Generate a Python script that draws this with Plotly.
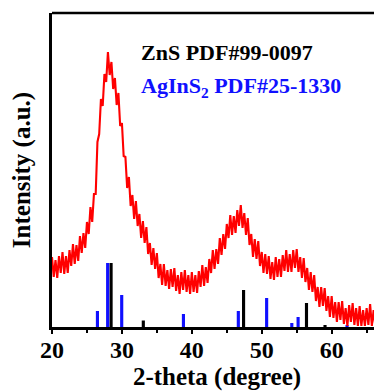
import numpy as np
import plotly.graph_objects as go

# 2-theta sampling grid (degrees)
two_theta = np.round(np.arange(20.0, 67.26, 0.25), 2)

# XRD intensity (a.u.) (noisy trace)
intensity = [
    70, 50, 67, 49, 71, 54, 75, 53, 71, 54, 77, 61, 83, 63, 82, 66,
    91, 74, 94, 79, 105, 93, 120, 105, 133, 133, 185, 193, 228, 221, 253, 245,
    275, 252, 265, 238, 249, 222, 234, 201, 204, 171, 170, 139, 150, 121, 132, 108,
    126, 101, 113, 89, 106, 84, 100, 73, 84, 62, 79, 58, 74, 49, 63, 42,
    63, 41, 57, 38, 58, 40, 59, 36, 52, 33, 55, 37, 57, 35, 52, 33,
    55, 35, 52, 34, 56, 40, 62, 41, 60, 44, 68, 54, 77, 58, 78, 63,
    89, 72, 93, 78, 103, 89, 112, 92, 111, 94, 117, 101, 122, 99, 114, 92,
    109, 82, 93, 70, 88, 68, 86, 61, 75, 54, 73, 53, 71, 48, 65, 47,
    70, 50, 68, 50, 72, 56, 77, 55, 73, 55, 77, 59, 78, 55, 70, 49,
    69, 45, 59, 37, 55, 35, 52, 26, 40, 20, 40, 21, 39, 16, 31, 10,
    31, 9, 25, 5, 25, 7, 26, 3, 19, 1, 22, 5, 24, 2, 19, 1,
    21, 1, 17, 1, 19, 2, 23, 1, 17, 1, 22, 5, 25, 3,
]

# Reference patterns
zns_pos = [28.45, 33.06, 47.4, 56.4, 59.05]
zns_int = [64, 6.5, 37, 24, 2]
agins2_pos = [26.5, 27.96, 29.97, 38.8, 46.65, 50.7, 54.3, 55.2, 62.2]
agins2_int = [16, 64, 32, 13, 16, 29, 4, 10, 1.5]

x_ticks = [20, 30, 40, 50, 60]

FONT = "Liberation Serif, Times New Roman, serif"

fig = go.Figure()
fig.add_trace(go.Bar(x=zns_pos, y=zns_int, width=0.45, marker=dict(color="black", line=dict(width=0)),
                     showlegend=False))
fig.add_trace(go.Bar(x=agins2_pos, y=agins2_int, width=0.45, marker=dict(color="#1010ff", line=dict(width=0)),
                     showlegend=False))
fig.add_trace(go.Scatter(x=two_theta, y=intensity, mode="lines",
                         line=dict(color="#ff0000", width=2.1), showlegend=False))

fig.update_layout(
    width=374, height=383,
    margin=dict(l=44, r=0, t=5, b=64, autoexpand=False),
    paper_bgcolor="white", plot_bgcolor="white",
    barmode="overlay",
    font=dict(family=FONT, color="black"),
    xaxis=dict(
        range=[20, 67.2], tickvals=x_ticks, ticktext=[str(v) for v in x_ticks],
        showline=True, linecolor="black", linewidth=2.5,
        ticks="outside", ticklen=4, tickwidth=2, tickcolor="black",
        ticklabelstandoff=-5,
        minor=dict(dtick=5, tick0=20, ticks="outside", ticklen=3, tickwidth=2, tickcolor="black"),
        showgrid=False, zeroline=False,
        tickfont=dict(family=FONT, size=24, weight="bold"),
        title=dict(text="2-theta (degree)", font=dict(family=FONT, size=25, weight="bold"), standoff=6),
    ),
    yaxis=dict(
        range=[0, 314], showline=True, linecolor="black", linewidth=2.5,
        showticklabels=False, ticks="", showgrid=False, zeroline=False,
        title=dict(text="Intensity (a.u.)", font=dict(family=FONT, size=25, weight="bold"), standoff=12),
    ),
    shapes=[dict(type="line", xref="paper", yref="paper", x0=0, x1=1, y0=1, y1=1,
                 line=dict(color="black", width=2.5))],
    annotations=[
        dict(x=32.5, y=275, xref="x", yref="y", xanchor="left", yanchor="middle",
             text="ZnS PDF#99-0097", showarrow=False,
             font=dict(family=FONT, size=22, color="black", weight="bold")),
        dict(x=32.5, y=240, xref="x", yref="y", xanchor="left", yanchor="middle",
             text="AgInS<sub>2</sub> PDF#25-1330", showarrow=False,
             font=dict(family=FONT, size=22, color="#1010ff", weight="bold")),
    ],
)

fig.write_html("out.html")
